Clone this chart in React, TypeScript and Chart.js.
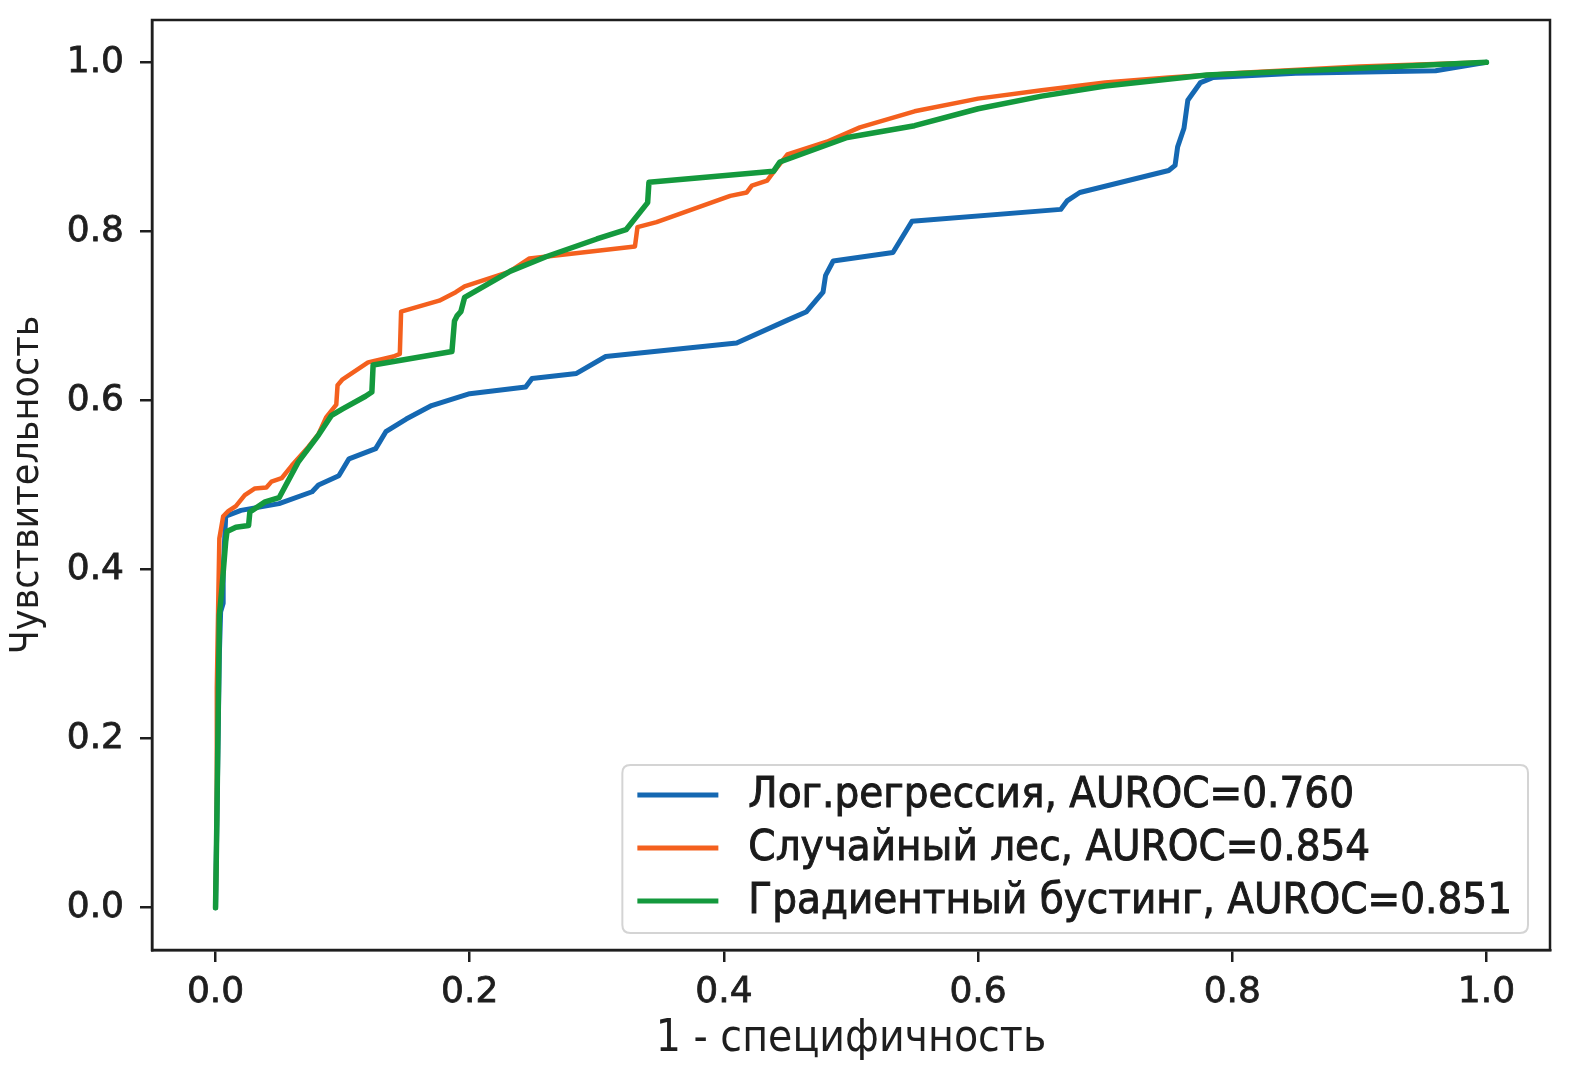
import React, { useEffect, useRef } from "react";
import { Chart, registerables } from "chart.js";

Chart.register(...registerables);

// ---- data ----
const seriesLabels = [
  "Лог.регрессия, AUROC=0.760",
  "Случайный лес, AUROC=0.854",
  "Градиентный бустинг, AUROC=0.851",
];
const seriesColors = ["#1568b2", "#f4601e", "#14993d"];

const lrX = [0, 0.001, 0.003, 0.004, 0.006, 0.006, 0.008, 0.02, 0.05, 0.076, 0.081, 0.097, 0.105, 0.126, 0.134, 0.15, 0.17, 0.2, 0.244, 0.249, 0.284, 0.307, 0.41, 0.45, 0.465, 0.478, 0.48, 0.486, 0.533, 0.548, 0.665, 0.67, 0.68, 0.75, 0.755, 0.757, 0.762, 0.765, 0.775, 0.785, 0.85, 0.96, 1.0];
const lrY = [0, 0.1, 0.3, 0.35, 0.36, 0.4, 0.463, 0.47, 0.478, 0.492, 0.5, 0.511, 0.531, 0.543, 0.563, 0.578, 0.594, 0.608, 0.616, 0.626, 0.632, 0.652, 0.668, 0.695, 0.705, 0.728, 0.748, 0.765, 0.775, 0.812, 0.826, 0.836, 0.846, 0.872, 0.878, 0.9, 0.922, 0.955, 0.976, 0.982, 0.987, 0.99, 1.0];

const rfX = [0, 0.001, 0.001, 0.002, 0.003, 0.006, 0.01, 0.016, 0.023, 0.031, 0.04, 0.044, 0.052, 0.06, 0.073, 0.081, 0.087, 0.095, 0.096, 0.1, 0.12, 0.14, 0.145, 0.146, 0.176, 0.189, 0.196, 0.231, 0.247, 0.33, 0.332, 0.347, 0.405, 0.418, 0.422, 0.434, 0.439, 0.45, 0.481, 0.507, 0.55, 0.6, 0.65, 0.7, 0.75, 0.8, 0.9, 1.0];
const rfY = [0, 0.1, 0.26, 0.35, 0.437, 0.463, 0.469, 0.475, 0.488, 0.496, 0.497, 0.504, 0.508, 0.523, 0.545, 0.56, 0.58, 0.595, 0.618, 0.625, 0.645, 0.652, 0.655, 0.705, 0.718, 0.728, 0.735, 0.752, 0.768, 0.782, 0.805, 0.811, 0.842, 0.846, 0.854, 0.86, 0.87, 0.891, 0.906, 0.923, 0.942, 0.957, 0.967, 0.976, 0.982, 0.987, 0.995, 1.0];

const gbX = [0, 0.001, 0.003, 0.005, 0.008, 0.009, 0.016, 0.026, 0.027, 0.039, 0.05, 0.065, 0.081, 0.091, 0.1, 0.118, 0.123, 0.124, 0.186, 0.188, 0.19, 0.193, 0.196, 0.232, 0.26, 0.3, 0.323, 0.34, 0.341, 0.439, 0.444, 0.497, 0.55, 0.6, 0.65, 0.7, 0.78, 0.9, 1.0];
const gbY = [0, 0.1, 0.346, 0.378, 0.433, 0.445, 0.45, 0.452, 0.468, 0.48, 0.485, 0.527, 0.559, 0.582, 0.59, 0.605, 0.61, 0.642, 0.658, 0.694, 0.7, 0.705, 0.722, 0.753, 0.77, 0.791, 0.802, 0.834, 0.858, 0.871, 0.882, 0.911, 0.925, 0.945, 0.96, 0.972, 0.985, 0.993, 1.0];

const xTicks = [0, 0.2, 0.4, 0.6, 0.8, 1.0];
const yTicks = [0, 0.2, 0.4, 0.6, 0.8, 1.0];
const xTitle = "1 - специфичность";
const yTitle = "Чувствительность";

const toPoints = (xs: number[], ys: number[]) => xs.map((x, i) => ({ x, y: ys[i] }));

const INK = "#1e1e1e";
const TICK_FONT = { family: "'DejaVu Sans', sans-serif", size: 36 };
const XTITLE_FONT = { family: "'DejaVu Sans Condensed', 'DejaVu Sans', sans-serif", size: 44 };
const YTITLE_FONT = { family: "'DejaVu Sans Condensed', 'DejaVu Sans', sans-serif", size: 39 };

const framePlugin = {
  id: "frame",
  afterDraw(chart: any) {
    const { ctx, chartArea } = chart;
    ctx.save();
    ctx.strokeStyle = INK;
    ctx.lineWidth = 2.5;
    ctx.strokeRect(chartArea.left, chartArea.top, chartArea.right - chartArea.left, chartArea.bottom - chartArea.top);
    ctx.restore();
  },
};

const legendPlugin = {
  id: "mplLegend",
  afterDatasetsDraw(chart: any) {
    const { ctx, chartArea } = chart;
    ctx.save();
    ctx.font = `43.4px 'DejaVu Sans Condensed', 'DejaVu Sans', sans-serif`;
    const widths = seriesLabels.map((t) => ctx.measureText(t).width);
    const maxW = Math.max(...widths);
    const padL = 15, handle = 81, gap = 30, padR = 16;
    const rowH = 53, padT = 30, padB = 32;
    const w = padL + handle + gap + maxW + padR;
    const h = padT + rowH * (seriesLabels.length - 1) + padB;
    const right = chartArea.right - 22;
    const bottom = chartArea.bottom - 17;
    const left = right - w;
    const top = bottom - h;
    const r = 8;
    ctx.beginPath();
    ctx.moveTo(left + r, top);
    ctx.lineTo(right - r, top);
    ctx.quadraticCurveTo(right, top, right, top + r);
    ctx.lineTo(right, bottom - r);
    ctx.quadraticCurveTo(right, bottom, right - r, bottom);
    ctx.lineTo(left + r, bottom);
    ctx.quadraticCurveTo(left, bottom, left, bottom - r);
    ctx.lineTo(left, top + r);
    ctx.quadraticCurveTo(left, top, left + r, top);
    ctx.closePath();
    ctx.fillStyle = "rgba(255,255,255,0.9)";
    ctx.fill();
    ctx.strokeStyle = "#d4d4d4";
    ctx.lineWidth = 2;
    ctx.stroke();
    ctx.textBaseline = "middle";
    ctx.textAlign = "left";
    seriesLabels.forEach((t, i) => {
      const cy = top + padT + i * rowH;
      ctx.strokeStyle = seriesColors[i];
      ctx.lineWidth = 5;
      ctx.beginPath();
      ctx.moveTo(left + padL, cy);
      ctx.lineTo(left + padL + handle, cy);
      ctx.stroke();
      ctx.fillStyle = "#1a1a1a";
      ctx.strokeStyle = "#1a1a1a";
      ctx.lineWidth = 0.9;
      ctx.fillText(t, left + padL + handle + gap, cy + 1);
      ctx.strokeText(t, left + padL + handle + gap, cy + 1);
    });
    ctx.restore();
  },
};

const zeroPadding = (scale: any) => {
  scale.paddingTop = 0;
  scale.paddingBottom = 0;
  scale.paddingLeft = 0;
  scale.paddingRight = 0;
};

export default function App() {
  const canvasRef = useRef<HTMLCanvasElement | null>(null);

  useEffect(() => {
    const canvas = canvasRef.current;
    if (!canvas) return;
    const chart = new Chart(canvas, {
      type: "line",
      data: {
        datasets: [
          { label: seriesLabels[0], data: toPoints(lrX, lrY), borderColor: seriesColors[0], borderWidth: 5, order: 2 },
          { label: seriesLabels[1], data: toPoints(rfX, rfY), borderColor: seriesColors[1], borderWidth: 4.5, order: 1 },
          { label: seriesLabels[2], data: toPoints(gbX, gbY), borderColor: seriesColors[2], borderWidth: 5.5, order: 0 },
        ] as any,
      },
      options: {
        responsive: false,
        maintainAspectRatio: false,
        animation: false,
        parsing: false as any,
        elements: { point: { radius: 0 }, line: { tension: 0, fill: false, borderJoinStyle: "round", borderCapStyle: "round" } },
        layout: { autoPadding: false, padding: { left: 0, top: 20, right: 46, bottom: 0 } },
        plugins: { legend: { display: false }, tooltip: { enabled: false } },
        scales: {
          x: {
            type: "linear",
            min: -0.05,
            max: 1.05,
            afterBuildTicks: (scale: any) => {
              scale.ticks = xTicks.map((v) => ({ value: v }));
            },
            afterFit: (scale: any) => {
              scale.height = 136;
              zeroPadding(scale);
            },
            ticks: {
              color: INK,
              font: TICK_FONT,
              padding: 9,
              maxRotation: 0,
              autoSkip: false,
              textStrokeColor: INK,
              textStrokeWidth: 0.8,
              callback: (v: any) => Number(v).toFixed(1),
            },
            grid: { display: true, drawOnChartArea: false, drawTicks: true, tickLength: 12, color: INK, lineWidth: 2.5 },
            border: { display: true, color: INK, width: 2.5 },
            title: { display: true, text: xTitle, color: INK, font: XTITLE_FONT, padding: { top: 0, bottom: 20 } },
          },
          y: {
            type: "linear",
            min: -0.05,
            max: 1.05,
            afterBuildTicks: (scale: any) => {
              scale.ticks = yTicks.map((v) => ({ value: v }));
            },
            afterFit: (scale: any) => {
              scale.width = 152;
              zeroPadding(scale);
            },
            ticks: {
              color: INK,
              font: TICK_FONT,
              padding: 16,
              autoSkip: false,
              textStrokeColor: INK,
              textStrokeWidth: 0.8,
              callback: (v: any) => Number(v).toFixed(1),
            },
            grid: { display: true, drawOnChartArea: false, drawTicks: true, tickLength: 12, color: INK, lineWidth: 2.5 },
            border: { display: true, color: INK, width: 2.5 },
            title: { display: true, text: yTitle, color: INK, font: YTITLE_FONT, padding: { top: 4, bottom: 0 } },
          },
        },
      } as any,
      plugins: [framePlugin, legendPlugin],
    });
    return () => chart.destroy();
  }, []);

  return (
    <div style={{ position: "absolute", left: 0, top: 0, width: 1596, height: 1086, background: "#fff" }}>
      <canvas ref={canvasRef} width={1596} height={1086} style={{ width: 1596, height: 1086, display: "block" }} />
    </div>
  );
}
